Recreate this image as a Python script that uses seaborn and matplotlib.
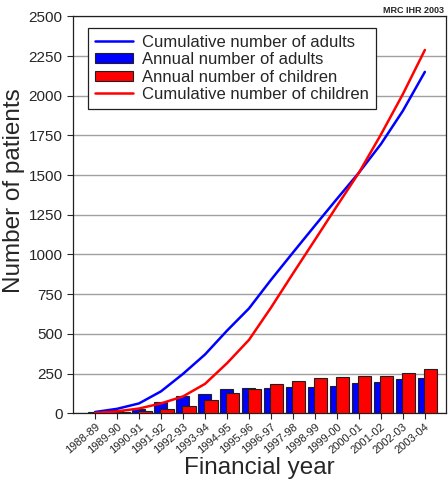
import numpy as np
import seaborn as sns
import matplotlib.pyplot as plt
from matplotlib.patches import Patch
from matplotlib.lines import Line2D

years = ['1988-89', '1989-90', '1990-91', '1991-92', '1992-93', '1993-94',
         '1994-95', '1995-96', '1996-97', '1997-98', '1998-99', '1999-00',
         '2000-01', '2001-02', '2002-03', '2003-04']
annual_adults = [8, 18, 28, 73, 109, 121, 151, 157, 159, 166, 168, 174, 193, 195, 216, 224]
annual_children = [2, 10, 15, 27, 46, 82, 128, 155, 186, 203, 222, 227, 235, 235, 252, 277]
cum_adults = [8, 28, 62, 138, 248, 370, 520, 660, 840, 1012, 1182, 1350, 1515, 1695, 1905, 2150]
cum_children = [2, 12, 30, 62, 106, 185, 315, 462, 665, 880, 1092, 1305, 1515, 1755, 2010, 2288]

sns.set_style('white')
plt.rcParams['font.family'] = ['Liberation Sans', 'DejaVu Sans']

fig = plt.figure(figsize=(4.48, 4.8), dpi=100)
ax = fig.add_axes([0.163, 0.139, 0.832, 0.827])

pos = np.arange(len(years))
blue = '#0000ff'
red = '#ff0000'

sns.barplot(x=pos - 0.01, y=annual_adults, native_scale=True, width=0.6,
            color=blue, saturation=1, edgecolor='#202020', linewidth=0.8, ax=ax, zorder=2)
sns.barplot(x=pos + 0.27, y=annual_children, native_scale=True, width=0.6,
            color=red, saturation=1, edgecolor='#202020', linewidth=0.8, ax=ax, zorder=3)
sns.lineplot(x=pos, y=cum_adults, color=blue, linewidth=1.8, ax=ax, zorder=4)
sns.lineplot(x=pos, y=cum_children, color=red, linewidth=1.8, ax=ax, zorder=5)

ax.set_xlim(-1, 15.95)
ax.set_ylim(0, 2500)
ax.set_yticks(np.arange(0, 2501, 250))
ax.set_xticks(pos)
ax.set_xticklabels(years, rotation=40, ha='right', rotation_mode='anchor', fontsize=8)
ax.tick_params(axis='y', labelsize=11, length=4, width=0.8, left=True, direction='out')
ax.tick_params(axis='x', length=4, width=0.8, bottom=True, direction='out', pad=2)
ax.yaxis.grid(True, color='#a0a0a0', linewidth=1)
ax.set_axisbelow(True)
for s in ax.spines.values():
    s.set_color('#202020')
    s.set_linewidth(0.9)

ax.set_ylabel('Number of patients', fontsize=17.5)
ax.yaxis.set_label_coords(-0.13, 0.56)
ax.set_xlabel('Financial year', fontsize=17.5, labelpad=1)

handles = [
    Line2D([], [], color=blue, linewidth=1.8),
    Patch(facecolor=blue, edgecolor='#202020', linewidth=0.8),
    Patch(facecolor=red, edgecolor='#202020', linewidth=0.8),
    Line2D([], [], color=red, linewidth=1.8),
]
labels = ['Cumulative number of adults', 'Annual number of adults',
          'Annual number of children', 'Cumulative number of children']
leg = ax.legend(handles, labels, loc='upper left', bbox_to_anchor=(0.04, 0.97),
                fontsize=12, frameon=True, fancybox=False, edgecolor='#202020',
                framealpha=1, handlelength=2.3, handleheight=0.55,
                labelspacing=0.14, borderpad=0.4, handletextpad=0.55,
                borderaxespad=0)
leg.get_frame().set_linewidth(0.9)

fig.text(0.99, 0.968, 'MRC IHR 2003', ha='right', va='bottom', fontsize=6.5, fontweight='bold')

fig.savefig('out.png', dpi=100)
